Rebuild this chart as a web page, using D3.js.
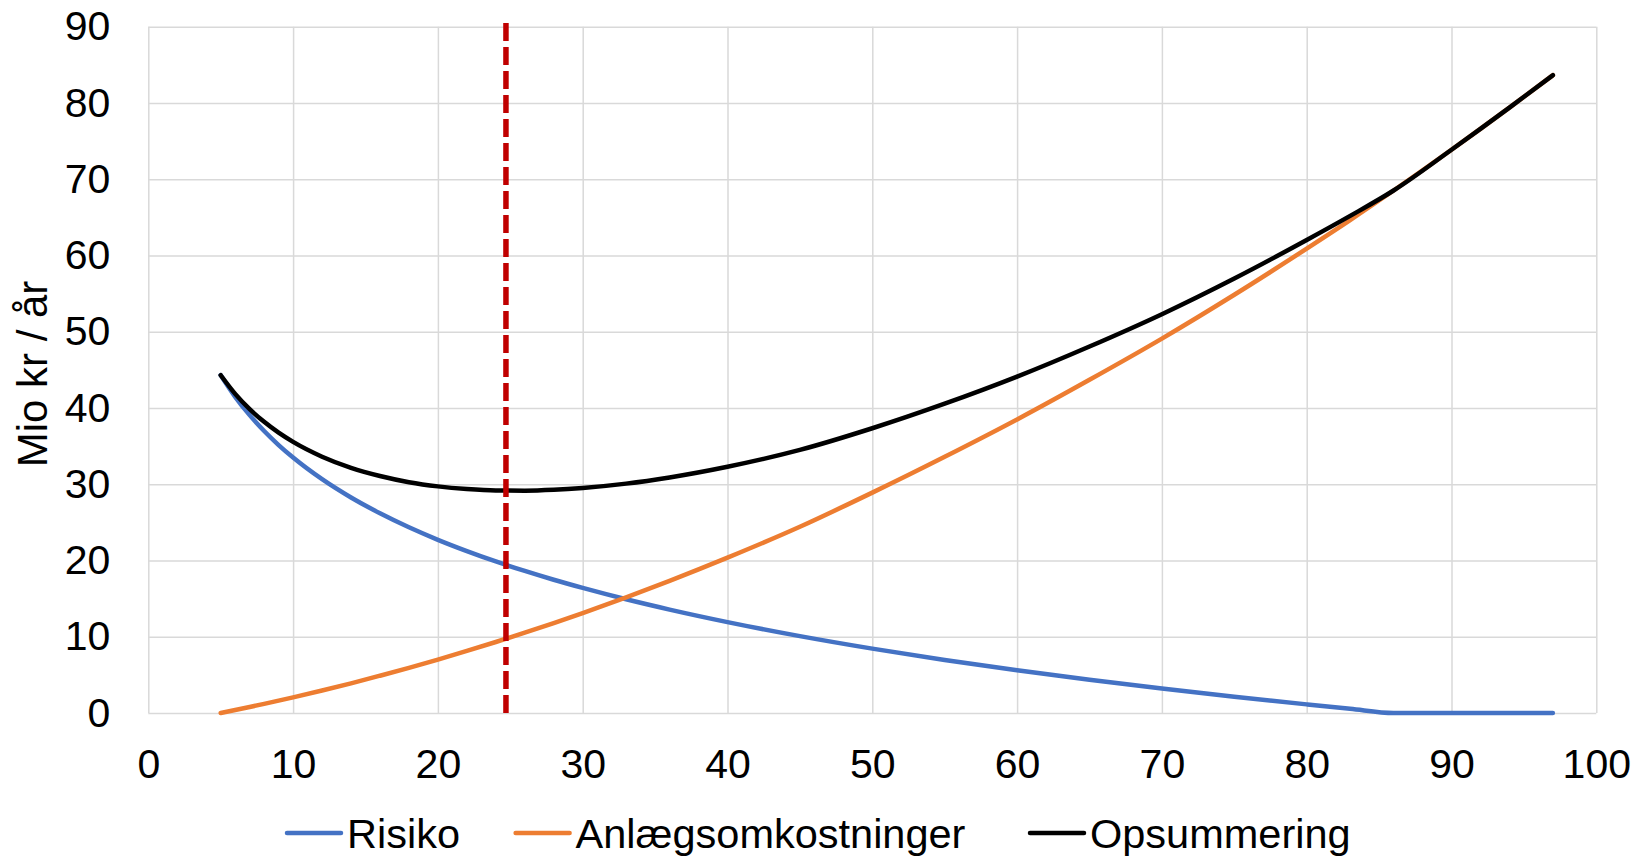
<!DOCTYPE html>
<html>
<head>
<meta charset="utf-8">
<script src="https://cdn.jsdelivr.net/npm/d3@7"></script>
<style>
  body { margin: 0; background: #fff; }
  text { font-family: "Liberation Sans", Arial, sans-serif; }
</style>
</head>
<body>
<div id="viz"></div>
<script>
const xValues = [5, 6, 7, 8, 9, 10, 12, 14, 16, 18, 20, 22, 24, 26, 28, 30, 33, 36, 40, 45, 50, 55, 60, 65, 70, 75, 80, 83, 86, 90, 94, 97];
const risiko = [44.3, 41.46, 39.06, 36.98, 35.14, 33.5, 30.66, 28.26, 26.19, 24.35, 22.71, 21.23, 19.87, 18.63, 17.47, 16.4, 14.91, 13.56, 11.92, 10.08, 8.44, 6.96, 5.61, 4.36, 3.2, 2.13, 1.13, 0.55, 0, 0, 0, 0];
const anlaeg = [0, 0.39, 0.79, 1.2, 1.62, 2.05, 2.95, 3.89, 4.89, 5.92, 7.01, 8.14, 9.31, 10.53, 11.8, 13.11, 15.17, 17.33, 20.37, 24.42, 28.9, 33.6, 38.5, 43.7, 49.1, 54.85, 60.9, 64.64, 68.52, 73.86, 79.38, 83.64];
const opsummering = [44.3, 41.85, 39.85, 38.18, 36.76, 35.55, 33.61, 32.15, 31.08, 30.27, 29.72, 29.37, 29.18, 29.16, 29.27, 29.51, 30.08, 30.89, 32.29, 34.5, 37.34, 40.56, 44.11, 48.06, 52.3, 56.98, 62.03, 65.19, 68.52, 73.86, 79.38, 83.64];
const optimumX = 24.7;
const optimumTop = 91.2;
const seriesNames = ["Risiko", "Anlægsomkostninger", "Opsummering"];
const seriesColors = ["#4472C4", "#ED7D31", "#000000"];
const xTicks = [0, 10, 20, 30, 40, 50, 60, 70, 80, 90, 100];
const yTicks = [0, 10, 20, 30, 40, 50, 60, 70, 80, 90];
const yTitle = "Mio kr / år";

const W = 1639, H = 857;
const margin = {top: 26.7, right: 42.7, bottom: 144, left: 148.3};
const width = W - margin.left - margin.right;
const height = H - margin.top - margin.bottom;

const svg = d3.select("#viz")
  .append("svg")
    .attr("width", W)
    .attr("height", H);

const g = svg.append("g")
  .attr("transform", `translate(${margin.left},${margin.top})`);

const x = d3.scaleLinear().domain([0, 100]).range([0, width]);
const y = d3.scaleLinear().domain([0, 90]).range([height, 0]);

// gridlines
g.append("g")
  .call(d3.axisBottom(x).tickValues(xTicks).tickSize(height).tickFormat(""))
  .call(a => a.select(".domain").remove())
  .selectAll("line")
    .attr("stroke", "#D9D9D9")
    .attr("stroke-width", 1.5);

g.append("g")
  .call(d3.axisLeft(y).tickValues(yTicks).tickSize(-width).tickFormat(""))
  .call(a => a.select(".domain").remove())
  .selectAll("line")
    .attr("stroke", "#D9D9D9")
    .attr("stroke-width", 1.5);

// tick labels
g.append("g")
  .attr("transform", `translate(0,${height})`)
  .call(d3.axisBottom(x).tickValues(xTicks).tickSize(0).tickPadding(36))
  .call(a => a.select(".domain").remove())
  .selectAll("text")
    .attr("fill", "#000")
    .style("font-size", "41px");

g.append("g")
  .call(d3.axisLeft(y).tickValues(yTicks).tickSize(0).tickPadding(38))
  .call(a => a.select(".domain").remove())
  .selectAll("text")
    .attr("fill", "#000")
    .style("font-size", "41px");

svg.append("text")
  .attr("transform", `translate(47,374) rotate(-90)`)
  .attr("text-anchor", "middle")
  .style("font-size", "42px")
  .attr("fill", "#000")
  .text(yTitle);

// series
const allSeries = [risiko, anlaeg, opsummering];
const line = d3.line()
  .x((d, i) => x(xValues[i]))
  .y(d => y(d))
  .curve(d3.curveMonotoneX);

allSeries.forEach((vals, k) => {
  g.append("path")
    .datum(vals)
    .attr("fill", "none")
    .attr("stroke", seriesColors[k])
    .attr("stroke-width", 4.5)
    .attr("stroke-linejoin", "round")
    .attr("stroke-linecap", "round")
    .attr("d", line);
});

// optimum marker
g.append("line")
  .attr("x1", x(optimumX))
  .attr("x2", x(optimumX))
  .attr("y1", y(0))
  .attr("y2", y(optimumTop))
  .attr("stroke", "#C00000")
  .attr("stroke-width", 5.5)
  .attr("stroke-dasharray", "18,6");

// legend (item start positions follow the original layout)
const legendX = [287, 515.6, 1030];
seriesNames.forEach((name, k) => {
  const item = svg.append("g")
    .attr("transform", `translate(${legendX[k]},833)`);
  item.append("line")
    .attr("x1", 0).attr("x2", 54)
    .attr("y1", 0).attr("y2", 0)
    .attr("stroke", seriesColors[k])
    .attr("stroke-width", 4.5)
    .attr("stroke-linecap", "round");
  item.append("text")
    .attr("x", 60)
    .attr("y", 15)
    .style("font-size", "41.5px")
    .attr("fill", "#000")
    .text(name);
});
</script>
</body>
</html>
